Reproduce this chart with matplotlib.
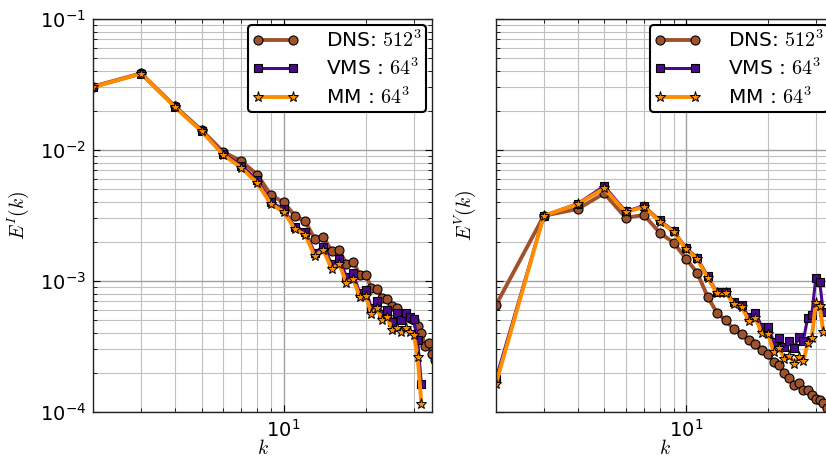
import numpy as np
import matplotlib
matplotlib.use("Agg")
import matplotlib.pyplot as plt
from matplotlib.ticker import LogLocator, FuncFormatter, NullFormatter

plt.rcParams["mathtext.fontset"] = "cm"
plt.rcParams["font.family"] = "DejaVu Sans"

# wavenumbers
k_dns = np.arange(2, 37)
k_les = np.arange(2, 33)

# E^I(k): left panel
EI_dns = [0.0305, 0.0385, 0.0215, 0.0142, 0.0097, 0.0082, 0.0065, 0.0045, 0.0040, 0.00315,
          0.00285, 0.0021, 0.00217, 0.00169, 0.00172, 0.00134, 0.0014, 0.00112, 0.00112, 0.00088,
          0.00087, 0.00074, 0.00073, 0.00064, 0.00062, 0.00056, 0.00055, 0.00052, 0.0005, 0.00045,
          0.0004, 0.00032, 0.000335, 0.000275, 0.00025]
EI_vms = [0.0302, 0.0382, 0.0213, 0.0140, 0.0094, 0.0076, 0.0059, 0.00399, 0.00355, 0.00257,
          0.00238, 0.00164, 0.00183, 0.00135, 0.00147, 0.00108, 0.00115, 0.000805, 0.00085, 0.00062,
          0.0007, 0.00056, 0.0006, 0.00049, 0.00057, 0.0005, 0.00057, 0.00053, 0.00051, 0.000355,
          0.000163]
EI_mm = [0.0302, 0.0382, 0.0212, 0.0139, 0.0092, 0.0073, 0.0056, 0.00385, 0.00338, 0.0025,
         0.00224, 0.00156, 0.00172, 0.00124, 0.00134, 0.00097, 0.00103, 0.00076, 0.00077, 0.00056,
         0.00062, 0.0005, 0.00053, 0.00042, 0.00044, 0.00041, 0.00044, 0.00041, 0.00039, 0.000264,
         0.000116]

# E^V(k): right panel
EV_dns = [6.56e-4, 3.15e-3, 3.55e-3, 4.67e-3, 3.04e-3, 3.19e-3, 2.34e-3, 1.96e-3, 1.48e-3, 1.15e-3,
          7.6e-4, 5.7e-4, 5.0e-4, 4.27e-4, 3.92e-4, 3.55e-4, 3.31e-4, 2.97e-4, 2.75e-4, 2.39e-4,
          2.28e-4, 1.97e-4, 1.81e-4, 1.61e-4, 1.66e-4, 1.47e-4, 1.47e-4, 1.35e-4, 1.25e-4, 1.24e-4,
          1.18e-4, 1.08e-4, 1.03e-4, 0.97e-4, 0.92e-4]
EV_vms = [1.8e-4, 3.15e-3, 3.9e-3, 5.3e-3, 3.4e-3, 3.75e-3, 2.9e-3, 2.42e-3, 1.78e-3, 1.5e-3,
          1.09e-3, 8.2e-4, 8.3e-4, 6.9e-4, 6.6e-4, 5.3e-4, 5.7e-4, 4.48e-4, 4.48e-4, 3.44e-4,
          3.69e-4, 3.15e-4, 3.5e-4, 3.1e-4, 3.76e-4, 3.5e-4, 5.25e-4, 5.5e-4, 1.06e-3, 9.8e-4,
          5.75e-4]
EV_mm = [1.65e-4, 3.15e-3, 3.87e-3, 5.1e-3, 3.34e-3, 3.69e-3, 2.84e-3, 2.38e-3, 1.75e-3, 1.47e-3,
         1.06e-3, 8.05e-4, 8.1e-4, 6.67e-4, 6.37e-4, 4.98e-4, 5.19e-4, 3.99e-4, 3.92e-4, 2.88e-4,
         3.06e-4, 2.54e-4, 2.69e-4, 2.32e-4, 2.64e-4, 2.45e-4, 3.34e-4, 3.69e-4, 6.8e-4, 6.5e-4,
         4.05e-4]

labels = ["DNS: $512^3$", "VMS : $64^3$", "MM : $64^3$"]
c_dns = "#a0522d"
c_vms = "#4b0a8c"
c_mm = "#ff8c00"

W, H = 826, 459
fig = plt.figure(figsize=(W / 100, H / 100), dpi=100)
ax1 = fig.add_axes([93 / W, 1 - 412 / H, 339 / W, 393 / H])
ax2 = fig.add_axes([496 / W, 1 - 412 / H, 338 / W, 393 / H])


def fmt(v, pos):
    return r"$\mathregular{10^{%d}}$" % int(round(np.log10(v)))


for ax, e_dns, e_vms, e_mm, ylab in [(ax1, EI_dns, EI_vms, EI_mm, r"$E^I(k)$"),
                                      (ax2, EV_dns, EV_vms, EV_mm, r"$E^V(k)$")]:
    ax.plot(k_dns, e_dns, "-o", color=c_dns, lw=2.8, ms=6.5, mec="black", mew=0.8,
            label=labels[0])
    ax.plot(k_les, e_vms, "-s", color=c_vms, lw=2.2, ms=6.0, mec="black", mew=0.8,
            label=labels[1])
    ax.plot(k_les, e_mm, "-*", color=c_mm, lw=2.8, ms=8.0, mec="black", mew=0.7,
            label=labels[2])
    ax.set_xscale("log")
    ax.set_yscale("log")
    ax.set_xlim(2, 35)
    ax.set_ylim(1e-4, 1e-1)
    ax.xaxis.set_major_locator(LogLocator(base=10))
    ax.xaxis.set_minor_locator(LogLocator(base=10, subs=np.arange(2, 10)))
    ax.yaxis.set_minor_locator(LogLocator(base=10, subs=np.arange(2, 10)))
    ax.xaxis.set_major_formatter(FuncFormatter(fmt))
    ax.yaxis.set_major_formatter(FuncFormatter(fmt))
    ax.xaxis.set_minor_formatter(NullFormatter())
    ax.yaxis.set_minor_formatter(NullFormatter())
    ax.grid(True, which="major", color="#a0a0a0", lw=1.0)
    ax.grid(True, which="minor", color="#c0c0c0", lw=0.8)
    ax.set_axisbelow(True)
    ax.tick_params(which="both", direction="in", top=True, right=True, labelsize=14, pad=5)
    ax.tick_params(which="major", length=5)
    ax.tick_params(which="minor", length=3)
    for s in ax.spines.values():
        s.set_linewidth(1.0)
        s.set_color("#222222")
    ax.set_xlabel(r"$k$", fontsize=14, labelpad=-1)
    ax.set_ylabel(ylab, fontsize=14)
    leg = ax.legend(loc="upper right", fontsize=14.5, numpoints=2, handlelength=2.3,
                    borderaxespad=0.3, framealpha=1, edgecolor="black", fancybox=True,
                    labelspacing=0.35, borderpad=0.2, handletextpad=1.35)
    leg.get_frame().set_linewidth(1.5)

ax2.tick_params(labelleft=False)
ax1.yaxis.labelpad = 6
ax2.yaxis.labelpad = 8

fig.savefig("out.png", dpi=100)
